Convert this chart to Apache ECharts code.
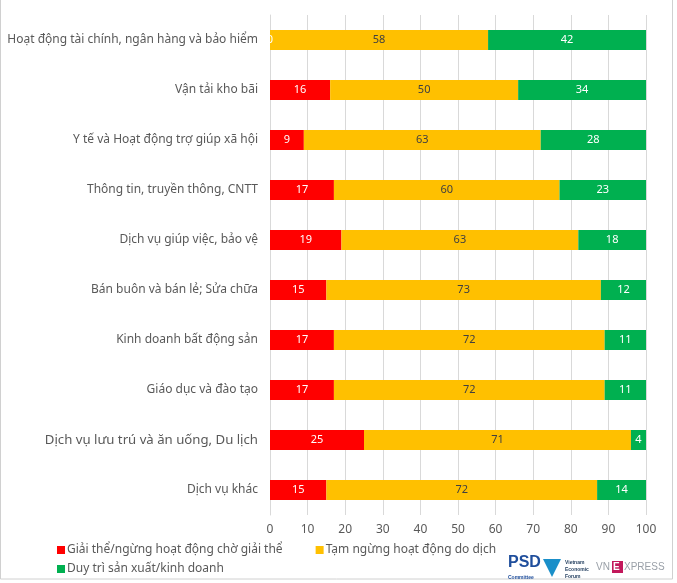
<!DOCTYPE html>
<html><head><meta charset="utf-8">
<script src="https://cdn.jsdelivr.net/npm/echarts@6/dist/echarts.min.js"></script>
<style>html,body{margin:0;padding:0;background:#fff}#c{width:677px;height:583px}</style>
</head><body><div id="c"></div>
<script>
const categories = [
  "Hoạt động tài chính, ngân hàng và bảo hiểm",
  "Vận tải kho bãi",
  "Y tế và Hoạt động trợ giúp xã hội",
  "Thông tin, truyền thông, CNTT",
  "Dịch vụ giúp việc, bảo vệ",
  "Bán buôn và bán lẻ; Sửa chữa",
  "Kinh doanh bất động sản",
  "Giáo dục và đào tạo",
  "Dịch vụ lưu trú và ăn uống, Du lịch",
  "Dịch vụ khác"
];
const dissolved = [0, 16, 9, 17, 19, 15, 17, 17, 25, 15];
const suspended = [58, 50, 63, 60, 63, 73, 72, 72, 71, 72];
const maintained = [42, 34, 28, 23, 18, 12, 11, 11, 4, 14];
const seriesNames = ["Giải thể/ngừng hoạt động chờ giải thể", "Tạm ngừng hoạt động do dịch", "Duy trì sản xuất/kinh doanh"];
const xTicks = [0, 10, 20, 30, 40, 50, 60, 70, 80, 90, 100];

const chart = echarts.init(document.getElementById('c'));
const font = "'Noto Sans', 'Open Sans', sans-serif";
function mk(name, data, color, labelColor) {
  return {
    name, type: 'bar', stack: 'a', data, barWidth: 20,
    itemStyle: { color },
    label: { show: true, position: 'inside', color: labelColor, fontSize: 11, fontFamily: font },
    emphasis: { disabled: true }
  };
}
const legendText = { color: '#595959', fontSize: 12, fontFamily: font, padding: [0, 0, 0, -3] };
chart.setOption({
  animation: false,
  grid: { left: 270, right: 31, top: 15, bottom: 68, containLabel: false },
  xAxis: {
    type: 'value', min: xTicks[0], max: xTicks[xTicks.length - 1], interval: 10,
    axisLine: { show: false }, axisTick: { show: false },
    splitLine: { lineStyle: { color: '#d9d9d9', width: 1 } },
    axisLabel: { color: '#595959', fontSize: 12, fontFamily: font, margin: 9 }
  },
  yAxis: {
    type: 'category', data: categories, inverse: true,
    axisLine: { show: true, lineStyle: { color: '#d9d9d9' } }, axisTick: { show: false },
    axisLabel: {
      color: '#595959', fontSize: 12, fontFamily: font, margin: 12,
      formatter: function (v) { return v.indexOf('lưu trú') >= 0 ? '{big|' + v + '}' : v; },
      rich: { big: { fontSize: 13.2, color: '#595959', fontFamily: font } }
    }
  },
  legend: [
    {
      left: 52, top: 539, itemWidth: 8, itemHeight: 8, itemGap: 33,
      icon: 'rect', textStyle: legendText, data: [seriesNames[0], seriesNames[1]]
    },
    {
      left: 52, top: 558, itemWidth: 8, itemHeight: 8,
      icon: 'rect', textStyle: legendText, data: [seriesNames[2]]
    }
  ],
  graphic: [
    { type: 'rect', shape: { x: 0.5, y: -2, width: 672, height: 581 }, style: { fill: 'none', stroke: '#d0d0d0', lineWidth: 1 }, silent: true },
    { type: 'text', left: 508, top: 555, style: { text: 'PSD', fill: '#1f4e9c', font: 'bold 16px "Liberation Sans", sans-serif' } },
    { type: 'text', left: 508, top: 575, style: { text: 'Committee', fill: '#1f4e9c', font: 'bold 5px sans-serif' } },
    { type: 'polygon', shape: { points: [[543, 559], [561, 559], [552, 577]] }, style: { fill: '#1a8fc9' } },
    { type: 'text', left: 565, top: 559, style: { text: 'Vietnam\nEconomic\nForum', fill: '#1f3b5c', font: 'bold 5px sans-serif', lineHeight: 7 } },
    { type: 'text', left: 596, top: 562, style: { text: 'VN', fill: '#9aa0a8', font: '10px sans-serif' } },
    { type: 'rect', shape: { x: 612, y: 561, width: 11, height: 12 }, style: { fill: '#c2185b' } },
    { type: 'text', left: 613, top: 562, style: { text: 'E', fill: '#ffffff', font: 'bold 10px sans-serif' } },
    { type: 'text', left: 624, top: 562, style: { text: 'XPRESS', fill: '#9aa0a8', font: '10px sans-serif' } }
  ],
  series: [
    mk(seriesNames[0], dissolved, '#FF0000', '#ffffff'),
    mk(seriesNames[1], suspended, '#FFC000', '#404040'),
    mk(seriesNames[2], maintained, '#00B050', '#ffffff')
  ]
});
</script></body></html>
